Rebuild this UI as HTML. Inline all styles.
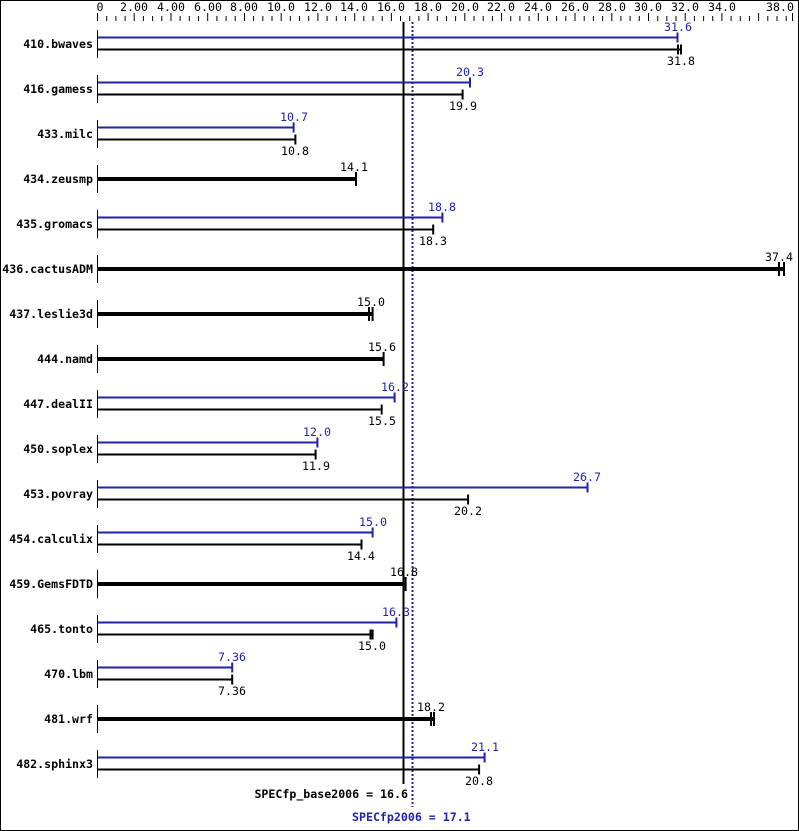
<!DOCTYPE html>
<html><head><meta charset="utf-8"><style>
body{margin:0;background:#fff}
svg{display:block}
text{font-family:"DejaVu Sans Mono","Liberation Mono",monospace;font-size:11.6px}
.l{font-weight:bold;text-anchor:end}
.v{text-anchor:middle}
.b{fill:#2222aa}
</style></head><body>
<svg width="799" height="831" xmlns="http://www.w3.org/2000/svg">
<rect x="0.5" y="0.5" width="798" height="830" fill="#fff" stroke="#000"/>
<g id="axis" stroke="#000" stroke-width="1">
<path d="M97.5 13v8M106.7 16v5M115.9 16v5M125.1 16v5M134.2 13v8M143.4 16v5M152.6 16v5M161.8 16v5M171 13v8M180.1 16v5M189.3 16v5M198.5 16v5M207.7 13v8M216.9 16v5M226.1 16v5M235.2 16v5M244.5 13v8M253.6 16v5M262.8 16v5M272 16v5M281.2 13v8M290.3 16v5M299.5 16v5M308.7 16v5M317.9 13v8M327.1 16v5M336.3 16v5M345.4 16v5M354.7 13v8M363.8 16v5M373 16v5M382.2 16v5M391.4 13v8M400.5 16v5M409.7 16v5M418.9 16v5M428.1 13v8M437.3 16v5M446.5 16v5M455.6 16v5M464.8 13v8M474 16v5M483.2 16v5M492.4 16v5M501.6 13v8M510.7 16v5M519.9 16v5M529.1 16v5M538.3 13v8M547.5 16v5M556.6 16v5M565.8 16v5M575 13v8M584.2 16v5M593.4 16v5M602.6 16v5M611.8 13v8M620.9 16v5M630.1 16v5M639.3 16v5M648.5 13v8M657.7 16v5M666.8 16v5M676 16v5M685.2 13v8M694.4 16v5M703.6 16v5M712.7 16v5M721.9 13v8M731.1 16v5M740.3 16v5M749.5 16v5M758.6 13v8M767.8 16v5M777 16v5M786.2 16v5M792.5 13v8"/>
</g>
<g>
<text x="100" y="11" class="v">0</text>
<text x="134" y="11" class="v">2.00</text>
<text x="171" y="11" class="v">4.00</text>
<text x="208" y="11" class="v">6.00</text>
<text x="244" y="11" class="v">8.00</text>
<text x="281" y="11" class="v">10.0</text>
<text x="318" y="11" class="v">12.0</text>
<text x="354" y="11" class="v">14.0</text>
<text x="391" y="11" class="v">16.0</text>
<text x="428" y="11" class="v">18.0</text>
<text x="465" y="11" class="v">20.0</text>
<text x="501" y="11" class="v">22.0</text>
<text x="538" y="11" class="v">24.0</text>
<text x="575" y="11" class="v">26.0</text>
<text x="612" y="11" class="v">28.0</text>
<text x="648" y="11" class="v">30.0</text>
<text x="685" y="11" class="v">32.0</text>
<text x="722" y="11" class="v">34.0</text>
<text x="780" y="11" class="v">38.0</text>
</g>
<line x1="403.5" y1="22" x2="403.5" y2="784" stroke="#000" stroke-width="2"/>
<line x1="412.5" y1="22" x2="412.5" y2="807" stroke="#2222aa" stroke-width="2" stroke-dasharray="2,2"/>
<text x="408" y="798" class="l">SPECfp_base2006 = 16.6</text>
<text x="352" y="821" class="b" style="font-weight:bold">SPECfp2006 = 17.1</text>
<g stroke="#000">
<path d="M97.5 30v28M97.5 75v28M97.5 120v28M97.5 165v28M97.5 210v28M97.5 255v28M97.5 300v28M97.5 345v28M97.5 390v28M97.5 435v28M97.5 480v28M97.5 525v28M97.5 570v28M97.5 615v28M97.5 660v28M97.5 705v28M97.5 750v28"/>
</g>
<g font-weight="bold">
<text x="93" y="48" class="l">410.bwaves</text>
<text x="93" y="93" class="l">416.gamess</text>
<text x="93" y="138" class="l">433.milc</text>
<text x="93" y="183" class="l">434.zeusmp</text>
<text x="93" y="228" class="l">435.gromacs</text>
<text x="93" y="273" class="l">436.cactusADM</text>
<text x="93" y="318" class="l">437.leslie3d</text>
<text x="93" y="363" class="l">444.namd</text>
<text x="93" y="408" class="l">447.dealII</text>
<text x="93" y="453" class="l">450.soplex</text>
<text x="93" y="498" class="l">453.povray</text>
<text x="93" y="543" class="l">454.calculix</text>
<text x="93" y="588" class="l">459.GemsFDTD</text>
<text x="93" y="633" class="l">465.tonto</text>
<text x="93" y="678" class="l">470.lbm</text>
<text x="93" y="723" class="l">481.wrf</text>
<text x="93" y="768" class="l">482.sphinx3</text>
</g>
<g stroke="#2222aa" stroke-width="2">
<path d="M98 37.5H677.5M677.5 32.5v10"/>
<path d="M98 82.5H470M470 77.5v10"/>
<path d="M98 127.5H293.6M293.6 122.5v10"/>
<path d="M98 217.5H442.4M442.4 212.5v10"/>
<path d="M98 397.5H394.6M394.6 392.5v10"/>
<path d="M98 442.5H317.4M317.4 437.5v10"/>
<path d="M98 487.5H587.5M587.5 482.5v10"/>
<path d="M98 532.5H372.6M372.6 527.5v10"/>
<path d="M98 622.5H396.4M396.4 617.5v10"/>
<path d="M98 667.5H232.2M232.2 662.5v10"/>
<path d="M98 757.5H484.6M484.6 752.5v10"/>
</g>
<g class="b" fill="#2222aa">
<text x="678" y="31" class="v">31.6</text>
<text x="470" y="76" class="v">20.3</text>
<text x="294" y="121" class="v">10.7</text>
<text x="442" y="211" class="v">18.8</text>
<text x="395" y="391" class="v">16.2</text>
<text x="317" y="436" class="v">12.0</text>
<text x="587" y="481" class="v">26.7</text>
<text x="373" y="526" class="v">15.0</text>
<text x="396" y="616" class="v">16.3</text>
<text x="232" y="661" class="v">7.36</text>
<text x="485" y="751" class="v">21.1</text>
</g>
<g stroke="#000" stroke-width="2">
<path d="M98 49.5H681M681 44.5v10M678 44.5v10"/>
<path d="M98 94.5H462.6M462.6 89.5v10"/>
<path d="M98 139.5H295.4M295.4 134.5v10"/>
<path d="M98 229.5H433.2M433.2 224.5v10"/>
<path d="M98 409.5H381.7M381.7 404.5v10"/>
<path d="M98 454.5H315.6M315.6 449.5v10"/>
<path d="M98 499.5H468.1M468.1 494.5v10"/>
<path d="M98 544.5H361.5M361.5 539.5v10"/>
<path d="M98 634.5H372.6M372.6 629.5v10M370.5 629.5v10"/>
<path d="M98 679.5H232.2M232.2 674.5v10"/>
<path d="M98 769.5H479.1M479.1 764.5v10"/>
</g>
<g stroke="#000">
<path stroke-width="4" d="M98 179H356"/><path stroke-width="2" d="M356 172v14"/>
<path stroke-width="4" d="M98 269H784"/><path stroke-width="2" d="M784 262v14M779 262v14"/>
<path stroke-width="4" d="M98 314H372.6"/><path stroke-width="2" d="M372.6 307v14M369 307v14"/>
<path stroke-width="4" d="M98 359H383.6"/><path stroke-width="2" d="M383.6 352v14"/>
<path stroke-width="4" d="M98 584H405.6"/><path stroke-width="2" d="M405.6 577v14"/>
<path stroke-width="4" d="M98 719H434"/><path stroke-width="2" d="M434 712v14M431 712v14"/>
</g>
<g>
<text x="681" y="65" class="v">31.8</text>
<text x="463" y="110" class="v">19.9</text>
<text x="295" y="155" class="v">10.8</text>
<text x="354" y="171" class="v">14.1</text>
<text x="433" y="245" class="v">18.3</text>
<text x="779" y="261" class="v">37.4</text>
<text x="371" y="306" class="v">15.0</text>
<text x="382" y="351" class="v">15.6</text>
<text x="382" y="425" class="v">15.5</text>
<text x="316" y="470" class="v">11.9</text>
<text x="468" y="515" class="v">20.2</text>
<text x="361" y="560" class="v">14.4</text>
<text x="404" y="576" class="v">16.8</text>
<text x="372" y="650" class="v">15.0</text>
<text x="232" y="695" class="v">7.36</text>
<text x="431" y="711" class="v">18.2</text>
<text x="479" y="785" class="v">20.8</text>
</g>
</svg>
</body></html>
